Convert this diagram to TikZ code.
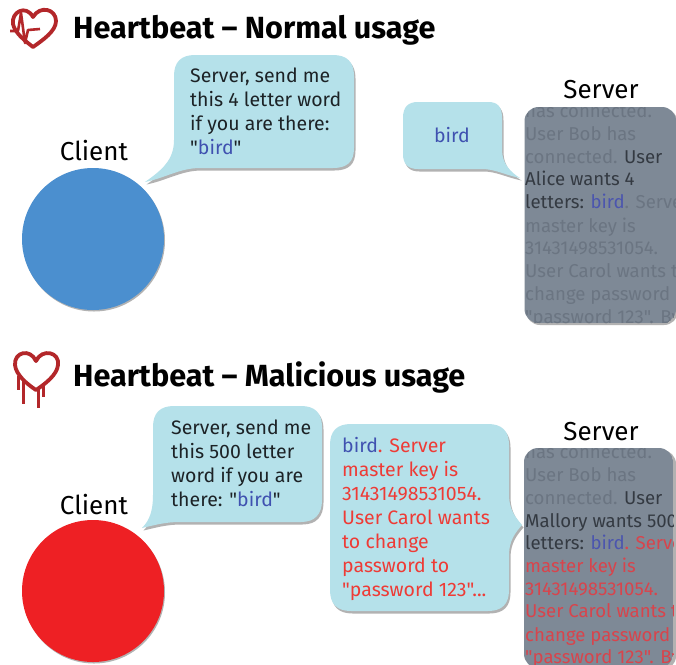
\documentclass[tikz,border=0pt]{standalone}
\usepackage{fontspec}
\setmainfont{Fira Sans}[Ligatures=TeXOff]
\definecolor{bub}{HTML}{B5E1EA}
\definecolor{bl}{HTML}{3F51B0}
\definecolor{rd}{HTML}{EE3B36}
\definecolor{ink}{HTML}{1C2226}
\definecolor{srv}{HTML}{7E8996}
\definecolor{fade}{HTML}{6B7582}
\definecolor{dk}{HTML}{343A42}
\definecolor{sbl}{HTML}{4B55AE}
\definecolor{srd}{HTML}{D8444C}
\definecolor{hrt}{HTML}{B3272A}
\definecolor{cblue}{HTML}{4B8FCF}
\definecolor{cred}{HTML}{EE2024}
\tikzset{x=1pt,y=-1pt,
 txt/.style={anchor=base west,inner sep=0pt,font=\fontsize{19.5}{22}\selectfont,text=ink},
 stxt/.style={anchor=base west,inner sep=0pt,font=\fontsize{18.6}{22}\selectfont,text=fade},
 lab/.style={anchor=base,inner sep=0pt,font=\fontsize{26}{30}\selectfont,text=black},
 ttl/.style={anchor=base west,inner sep=0pt,font=\fontsize{30.6}{34}\selectfont\bfseries,text=black},
 shad/.style={fill=black!55!white,opacity=.55},
 bubblefill/.style={fill=bub},
 heart/.style={draw=hrt,line width=3.8pt,line join=round,line cap=round}}
\begin{document}
\begin{tikzpicture}
\useasboundingbox (0,0) rectangle (676,664);
\fill[white] (0,0) rectangle (676,664);
% --- top heart
\draw[heart] (33,47) .. controls (24,40) and (15,33) .. (13,24) .. controls (11,12) and (26,4) .. (33,17) .. controls (40,5) and (56,9) .. (56,21) .. controls (56,31) and (43,40) .. (33,47) -- cycle;
\draw[hrt,line width=2.6pt,line join=round] (10,31) -- (18,31) -- (21,13) -- (25,43) -- (28,30) -- (40,29);
\node[ttl] (t1) at (73,38.5) {Heartbeat – Normal usage};
% --- top client
\fill[shad] (94,240.5) circle (71);
\node[circle,minimum size=142pt,inner sep=0pt,fill=cblue] (c1) at (93,239) {};
\node[lab] (cl1) at (94,160) {Client};
% --- bubble 1
\def\bubA{(174,76) .. controls (174,62) and (181,55) .. (195,55) -- (333,55) .. controls (347,55) and (354,62) .. (354,76) -- (354,148) .. controls (354,162) and (347,168) .. (333,168) -- (200,168) .. controls (180,168) and (165,178) .. (145,182) .. controls (162,170) and (174,160) .. (174,140) -- cycle}
\begin{scope}[shift={(1.5,2.5)}]\fill[shad] \bubA;\end{scope}
\fill[bubblefill] \bubA;
\node[txt] (a1) at (190,82) {Server, send me};
\node[txt] (a2) at (190,106) {this 4 letter word};
\node[txt] (a3) at (190,130) {if you are there:};
\node[txt] (a4) at (190,154) {"\textcolor{bl}{bird}"};
% --- bubble 2
\def\bubB{(403,118) .. controls (403,107) and (408,102) .. (418,102) -- (488,102) .. controls (498,102) and (502,107) .. (502,118) -- (502,150) .. controls (502,163) and (510,172) .. (520,178) .. controls (505,175) and (495,169) .. (482,169) -- (418,169) .. controls (408,169) and (403,164) .. (403,154) -- cycle}
\begin{scope}[shift={(1.5,2.5)}]\fill[shad] \bubB;\end{scope}
\fill[bubblefill] \bubB;
\node[txt,anchor=base,text=bl] (b1) at (452,142) {bird};
% --- server 1
\node[lab] (s1) at (601,98) {Server};
\fill[shad,rounded corners=14pt] (526,109) rectangle (678,325);
\begin{scope}
\path[clip,rounded corners=14pt] (524.5,107) rectangle (676,323);
\fill[srv] (524,107) rectangle (676,323);
\node[stxt] (s1a) at (525,117.5) {has connected.};
\node[stxt] (s1b) at (525,140) {User Bob has};
\node[stxt] (s1c) at (525,163) {connected. \textcolor{dk}{User}};
\node[stxt,text=dk] (s1d) at (525,185) {Alice wants 4};
\node[stxt,text=dk] (s1e) at (525,208) {letters: \textcolor{sbl}{bird}\textcolor{fade}{. Server}};
\node[stxt] (s1f) at (525,232) {master key is};
\node[stxt] (s1g) at (525,254) {31431498531054.};
\node[stxt] (s1h) at (525,277) {User Carol wants to};
\node[stxt] (s1i) at (525,300) {change password};
\node[stxt] (s1j) at (525,323) {"password 123". Bye};
\end{scope}
% --- bottom heart
\draw[heart] (36,390) .. controls (27,384) and (16,375) .. (15,365) .. controls (14,352) and (30,348) .. (36,361) .. controls (42,348) and (60,352) .. (58,365) .. controls (57,375) and (45,384) .. (36,390) -- cycle;
\draw[hrt,line width=3pt] (18,376) -- (18,390);
\draw[hrt,line width=3pt] (23,380) -- (23,404);
\draw[hrt,line width=3pt] (38,388) -- (38,408);
\draw[hrt,line width=3pt] (43,386) -- (43,397);
\node[ttl] (t2) at (73,386) {Heartbeat – Malicious usage};
% --- bottom client
\fill[shad] (94,592.5) circle (71);
\node[circle,minimum size=142pt,inner sep=0pt,fill=cred] (c2) at (93,591) {};
\node[lab] (cl2) at (94,514) {Client};
% --- bubble 3
\def\bubC{(153,427) .. controls (153,413) and (160,406) .. (174,406) -- (301,406) .. controls (315,406) and (322,413) .. (322,427) -- (322,500) .. controls (322,514) and (315,522) .. (301,522) -- (180,522) .. controls (165,522) and (155,525) .. (142,528) .. controls (150,520) and (153,510) .. (153,495) -- cycle}
\begin{scope}[shift={(1.5,2.5)}]\fill[shad] \bubC;\end{scope}
\fill[bubblefill] \bubC;
\node[txt] (d1) at (171,434) {Server, send me};
\node[txt] (d2) at (171,458) {this 500 letter};
\node[txt] (d3) at (171,482) {word if you are};
\node[txt] (d4) at (171,506) {there: "\textcolor{bl}{bird}"};
% --- bubble 4
\def\bubD{(330,445) .. controls (330,431) and (337,424) .. (351,424) -- (488,424) .. controls (502,424) and (509,431) .. (509,445) -- (509,495) .. controls (509,510) and (516,518) .. (522,525) .. controls (516,532) and (509,540) .. (509,555) -- (509,590) .. controls (509,604) and (502,611) .. (488,611) -- (351,611) .. controls (337,611) and (330,604) .. (330,590) -- cycle}
\begin{scope}[shift={(1.5,2.5)}]\fill[shad] \bubD;\end{scope}
\fill[bubblefill] \bubD;
\node[txt,text=rd] (e1) at (342,452) {\textcolor{bl}{bird}. Server};
\node[txt,text=rd] (e2) at (342,476) {master key is};
\node[txt,text=rd] (e3) at (342,500) {31431498531054.};
\node[txt,text=rd] (e4) at (342,524) {User Carol wants};
\node[txt,text=rd] (e5) at (342,548) {to change};
\node[txt,text=rd] (e6) at (342,572) {password to};
\node[txt,text=rd] (e7) at (342,596) {"password 123"...};
% --- server 2
\node[lab] (s2) at (601,440) {Server};
\fill[shad,rounded corners=14pt] (526,450) rectangle (676,670);
\begin{scope}
\path[clip,rounded corners=14pt] (524,448) rectangle (673,668);
\fill[srv] (524,448) rectangle (673,668);
\node[stxt] (s2a) at (525,458) {has connected.};
\node[stxt] (s2b) at (525,481) {User Bob has};
\node[stxt] (s2c) at (525,504) {connected. \textcolor{dk}{User}};
\node[stxt,text=dk] (s2d) at (525,527) {Mallory wants 500};
\node[stxt,text=dk] (s2e) at (525,549) {letters: \textcolor{sbl}{bird}\textcolor{srd}{. Server}};
\node[stxt,text=srd] (s2f) at (525,572) {master key is};
\node[stxt,text=srd] (s2g) at (525,595) {31431498531054.};
\node[stxt,text=srd] (s2h) at (525,617) {User Carol wants to};
\node[stxt,text=srd] (s2i) at (525,641) {change password};
\node[stxt,text=srd] (s2j) at (525,663) {"password 123". Bye};
\end{scope}
\end{tikzpicture}
\end{document}
